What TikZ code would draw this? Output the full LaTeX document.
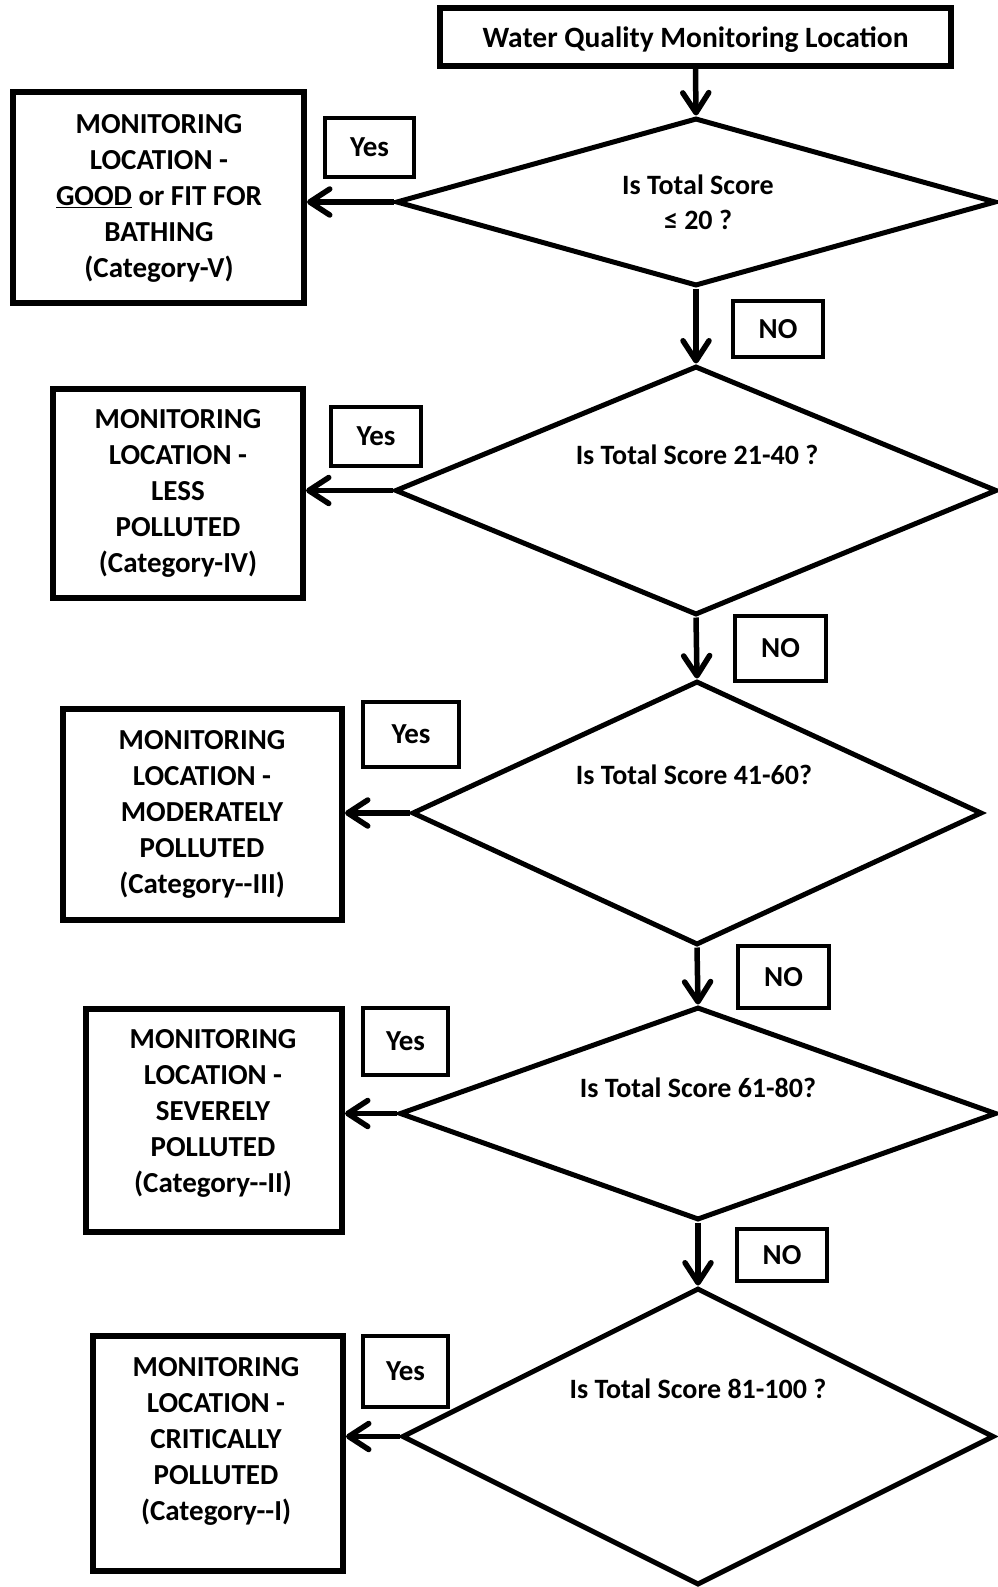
\documentclass[tikz,border=0pt]{standalone}
\usepackage{fontspec}
\setmainfont{Carlito}
\usetikzlibrary{shapes.geometric,arrows.meta}
\begin{document}
\begin{tikzpicture}[x=1pt,y=-1pt,
  bigbox/.style={draw, line width=6pt, inner sep=0pt},
  tagbox/.style={draw, line width=4.5pt, inner sep=0pt, font=\fontsize{29}{36}\selectfont\bfseries},
  decision/.style={draw, diamond, line width=5pt, inner sep=0pt},
  txt/.style={font=\fontsize{29}{36}\selectfont\bfseries, align=center, inner sep=0pt},
  dtxt/.style={font=\fontsize{28}{35}\selectfont\bfseries, align=center, inner sep=0pt},
  flow/.style={line width=5.5pt, -{Straight Barb[length=20pt,width=26pt,round]}}
]
\useasboundingbox (0,0) rectangle (997,1587);

% top box
\node[bigbox, minimum width=511pt, minimum height=58pt] (top) at (695.5,37) {};
\node[txt, font=\fontsize{29.5}{36}\selectfont\bfseries] (toptxt) at (695.5,40) {Water Quality Monitoring Location};

% decisions
\node[decision, minimum width=600pt, minimum height=168pt] (d1) at (696,202) {};
\node[decision, minimum width=602pt, minimum height=249pt] (d2) at (696,490.5) {};
\node[decision, minimum width=570pt, minimum height=264pt] (d3) at (697,813) {};
\node[decision, minimum width=597pt, minimum height=213pt] (d4) at (698,1113.5) {};
\node[decision, minimum width=592pt, minimum height=297pt] (d5) at (698,1436.5) {};

\node[dtxt] (q1) at (698,202) {Is Total Score\\≤ 20 ?};
\node[dtxt] (q2) at (697,455) {Is Total Score 21-40 ?};
\node[dtxt] (q3) at (694,775) {Is Total Score 41-60?};
\node[dtxt] (q4) at (698,1088) {Is Total Score 61-80?};
\node[dtxt] (q5) at (698,1389) {Is Total Score 81-100 ?};

% outcome boxes
\node[bigbox, minimum width=291pt, minimum height=211pt] (b1) at (158.5,197.5) {};
\node[bigbox, minimum width=250pt, minimum height=209pt] (b2) at (178,493.5) {};
\node[bigbox, minimum width=279pt, minimum height=211pt] (b3) at (202.5,814.5) {};
\node[bigbox, minimum width=256pt, minimum height=223pt] (b4) at (214,1120.5) {};
\node[bigbox, minimum width=250pt, minimum height=235pt] (b5) at (218,1453.5) {};

\node[txt] (t1) at (159,198.5) {MONITORING\\LOCATION -\\\underline{GOOD} or FIT FOR\\BATHING\\(Category-V)};
\node[txt] (t2) at (178,493.5) {MONITORING\\LOCATION -\\LESS\\POLLUTED\\(Category-IV)};
\node[txt] (t3) at (202,814.5) {MONITORING\\LOCATION -\\MODERATELY\\POLLUTED\\(Category-{}-III)};
\node[txt] (t4) at (213,1113) {MONITORING\\LOCATION -\\SEVERELY\\POLLUTED\\(Category-{}-II)};
\node[txt] (t5) at (216,1441.5) {MONITORING\\LOCATION -\\CRITICALLY\\POLLUTED\\(Category-{}-I)};

% Yes tags
\node[tagbox, minimum width=89pt, minimum height=59pt] (y1) at (369.5,147.5) {Yes};
\node[tagbox, minimum width=90pt, minimum height=59pt] (y2) at (376,436.5) {Yes};
\node[tagbox, minimum width=96pt, minimum height=65pt] (y3) at (411,734.5) {Yes};
\node[tagbox, minimum width=85pt, minimum height=67pt] (y4) at (405.5,1041.5) {Yes};
\node[tagbox, minimum width=85pt, minimum height=71pt] (y5) at (405.5,1371.5) {Yes};

% NO tags
\node[tagbox, minimum width=90pt, minimum height=56pt] (n1) at (778,329) {NO};
\node[tagbox, minimum width=91pt, minimum height=65pt] (n2) at (780.5,648.5) {NO};
\node[tagbox, minimum width=91pt, minimum height=62pt] (n3) at (783.5,977) {NO};
\node[tagbox, minimum width=90pt, minimum height=52pt] (n4) at (782,1255) {NO};

% connectors
\draw[flow] (top.south) -- (d1.north);
\draw[flow] (d1.south) -- (d2.north);
\draw[flow] (d2.south) -- (d3.north);
\draw[flow] (d3.south) -- (d4.north);
\draw[flow] (d4.south) -- (d5.north);

\draw[flow] (d1.west) -- (d1.west -| b1.east);
\draw[flow] (d2.west) -- (d2.west -| b2.east);
\draw[flow] (d3.west) -- (d3.west -| b3.east);
\draw[flow] (d4.west) -- (d4.west -| b4.east);
\draw[flow] (d5.west) -- (d5.west -| b5.east);
\end{tikzpicture}
\end{document}
